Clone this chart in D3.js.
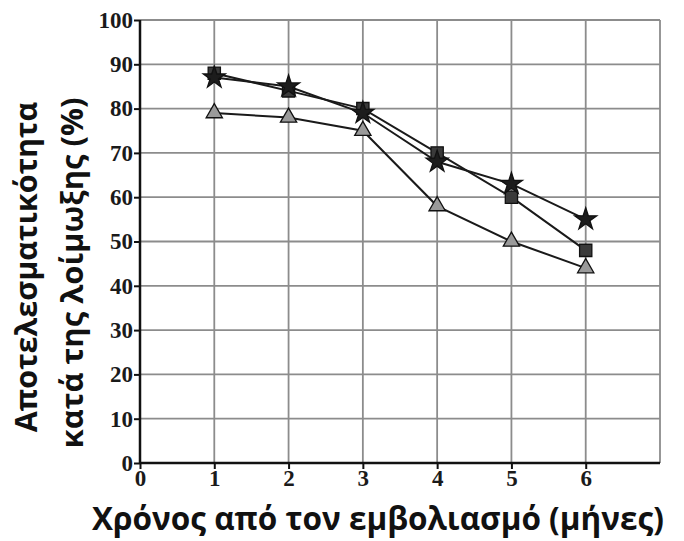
<!DOCTYPE html>
<html>
<head>
<meta charset="utf-8">
<script src="https://cdn.jsdelivr.net/npm/d3@7"></script>
<style>
  body { margin: 0; background: #fff; }
  .tick text { font-family: "Liberation Serif", serif; font-weight: bold; font-size: 23px; fill: #1a1a1a; }
  .title { font-family: "Open Sans", sans-serif; font-weight: bold; fill: #111; }
</style>
</head>
<body>
<div id="chart"></div>
<script>
// data
const months = [1, 2, 3, 4, 5, 6];
const squareVals = [88, 84, 80, 70, 60, 48];
const starVals = [87, 85, 79, 68, 63, 55];
const triangleVals = [79, 78, 75, 58, 50, 44];
const xTicks = [0, 1, 2, 3, 4, 5, 6];
const yTicks = [0, 10, 20, 30, 40, 50, 60, 70, 80, 90, 100];

const W = 684, H = 541;
const margin = { top: 20, right: 24, bottom: 78, left: 140 };
const width = W - margin.left - margin.right;
const height = H - margin.top - margin.bottom;

const svg = d3.select("#chart")
  .append("svg")
    .attr("width", W)
    .attr("height", H);

const g = svg.append("g")
  .attr("transform", `translate(${margin.left},${margin.top})`);

const x = d3.scaleLinear().domain([0, 7]).range([0, width]);
const y = d3.scaleLinear().domain([0, 100]).range([height, 0]);

// grid
const grid = g.append("g").attr("stroke", "#8c8c8c").attr("stroke-width", 1.8);
grid.selectAll(".hg")
  .data(yTicks.slice(1))
  .enter().append("line")
    .attr("x1", 0).attr("x2", width)
    .attr("y1", d => y(d)).attr("y2", d => y(d));
grid.selectAll(".vg")
  .data(xTicks.slice(1).concat([7]))
  .enter().append("line")
    .attr("x1", d => x(d)).attr("x2", d => x(d))
    .attr("y1", 0).attr("y2", height);

// axes
const xAxis = g.append("g")
  .attr("transform", `translate(0,${height})`)
  .call(d3.axisBottom(x).tickValues(xTicks).tickFormat(d3.format("d")).tickSize(6).tickPadding(1));
const yAxis = g.append("g")
  .call(d3.axisLeft(y).tickValues(yTicks).tickFormat(d3.format("d")).tickSize(6).tickPadding(1));
[xAxis, yAxis].forEach(a => {
  a.select(".domain").attr("stroke", "#111").attr("stroke-width", 2.5);
  a.selectAll(".tick line").attr("stroke", "#111").attr("stroke-width", 2);
});
yAxis.select(".domain").attr("d", `M0,0V${height}`);
xAxis.select(".domain").attr("d", `M0,0H${width}`);

// series
const series = [
  { name: "square", vals: squareVals },
  { name: "star", vals: starVals },
  { name: "triangle", vals: triangleVals }
];
const line = d3.line().x((d, i) => x(months[i])).y(d => y(d));

g.selectAll(".series")
  .data(series)
  .enter().append("path")
    .attr("d", d => line(d.vals))
    .attr("fill", "none")
    .attr("stroke", "#1a1a1a")
    .attr("stroke-width", 2);

const symbols = {
  square: { type: d3.symbolSquare, size: 150, fill: "#3a3a3a" },
  star: { type: d3.symbolStar, size: 150, fill: "#1c1c1c" },
  triangle: { type: d3.symbolTriangle, size: 115, fill: "#9a9a9a" }
};

series.forEach(s => {
  const sym = symbols[s.name];
  g.selectAll(".pt-" + s.name)
    .data(s.vals)
    .enter().append("path")
      .attr("transform", (d, i) => `translate(${x(months[i])},${y(d)})`)
      .attr("d", d3.symbol().type(sym.type).size(sym.size))
      .attr("fill", sym.fill)
      .attr("stroke", "#111")
      .attr("stroke-width", 1.3);
});

// axis titles
svg.append("text")
  .attr("class", "title")
  .style("font-size", "31.5px")
  .attr("x", 378)
  .attr("y", 530)
  .attr("text-anchor", "middle")
  .text("Χρόνος από τον εμβολιασμό (μήνες)");

svg.append("text")
  .attr("class", "title")
  .style("font-size", "30.5px")
  .attr("transform", "translate(37,267) rotate(-90)")
  .attr("text-anchor", "middle")
  .text("Αποτελεσματικότητα");

svg.append("text")
  .attr("class", "title")
  .style("font-size", "31px")
  .attr("transform", "translate(83,273) rotate(-90)")
  .attr("text-anchor", "middle")
  .text("κατά της λοίμωξης (%)");
</script>
</body>
</html>
